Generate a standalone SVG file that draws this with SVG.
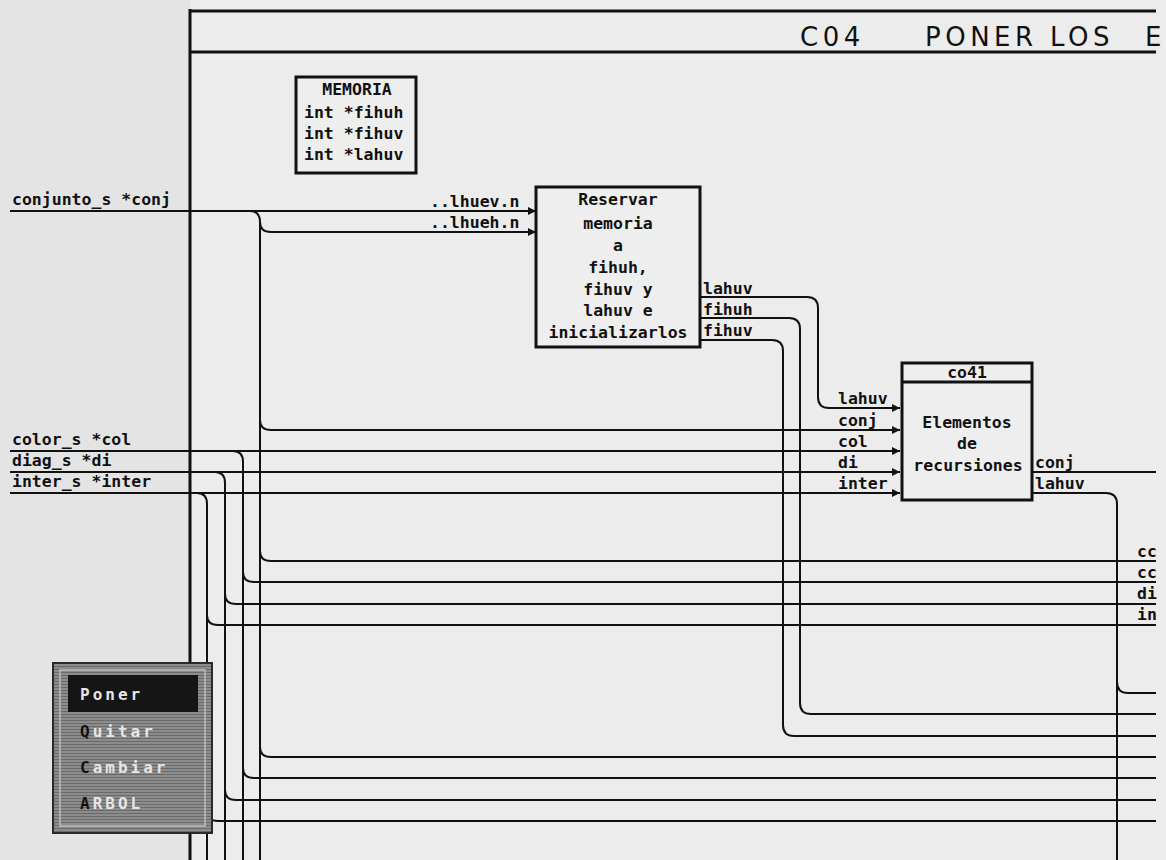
<svg xmlns="http://www.w3.org/2000/svg" width="1166" height="860" viewBox="0 0 1166 860">
<defs>
<marker id="arr" viewBox="0 0 8 8" refX="8" refY="4" markerWidth="8" markerHeight="8" markerUnits="userSpaceOnUse" orient="auto">
<path d="M0,0 L8,4 L0,8 Z" fill="#111"/>
</marker>
<pattern id="stripes" width="4" height="3" patternUnits="userSpaceOnUse">
<rect width="4" height="3" fill="#8c8c8c"/>
<rect width="4" height="1" fill="#6a6a6a"/>
</pattern>
</defs>
<style>
.ln{fill:none;stroke:#111;stroke-width:2}
.a{marker-end:url(#arr)}
.box{fill:#eeeeee;stroke:#111;stroke-width:3}
.t{font-family:"DejaVu Sans Mono","Liberation Mono",monospace;font-size:16.5px;font-weight:bold;fill:#111}
.c{text-anchor:middle}
.ti{font-family:"DejaVu Sans","Liberation Sans",sans-serif;font-size:26px;letter-spacing:4.5px;fill:#111}
.m{font-family:"DejaVu Sans Mono","Liberation Mono",monospace;font-size:16px;font-weight:bold;letter-spacing:3px;fill:#e6e6e6}
.k{fill:#111}
</style>
<rect width="1166" height="860" fill="#ececec"/>
<rect width="190" height="860" fill="#e4e4e4"/>

<g id="frame">
<line x1="190" y1="9" x2="190" y2="860" stroke="#111" stroke-width="3"/>
<line x1="190" y1="11" x2="1156" y2="11" stroke="#111" stroke-width="3"/>
<line x1="190" y1="52" x2="1156" y2="52" stroke="#111" stroke-width="3"/>
<text class="ti" x="800" y="46">C04</text>
<text class="ti" x="925" y="46">PONER</text>
<text class="ti" x="1050" y="46">LOS</text>
<text class="ti" x="1145" y="46">E</text>
</g>

<g id="connectors">
<path class="ln a" d="M10,211 H536"/>
<path class="ln a" d="M10,451 H900"/>
<path class="ln a" d="M10,472 H900"/>
<path class="ln a" d="M10,493 H900"/>
<path class="ln" d="M250,211 Q260,211 260,222 V860"/>
<path class="ln a" d="M260,222 Q260,232 271,232 H536"/>
<path class="ln a" d="M260,420 Q260,430 271,430 H900"/>
<path class="ln" d="M260,551 Q260,561 271,561 H1156"/>
<path class="ln" d="M260,747 Q260,757 271,757 H1156"/>
<path class="ln" d="M233,451 Q243,451 243,462 V860"/>
<path class="ln" d="M243,572 Q243,582 254,582 H1156"/>
<path class="ln" d="M243,768 Q243,778 254,778 H1156"/>
<path class="ln" d="M215,472 Q225,472 225,483 V860"/>
<path class="ln" d="M225,594 Q225,604 236,604 H1156"/>
<path class="ln" d="M225,790 Q225,800 236,800 H1156"/>
<path class="ln" d="M197,493 Q207,493 207,504 V860"/>
<path class="ln" d="M207,615 Q207,625 218,625 H1156"/>
<path class="ln" d="M207,811 Q207,821 218,821 H1156"/>
<path class="ln a" d="M700,297 H807 Q818,297 818,308 V397 Q818,408 829,408 H900"/>
<path class="ln" d="M700,318 H789 Q800,318 800,329 V703 Q800,714 811,714 H1156"/>
<path class="ln" d="M700,340 H772 Q783,340 783,351 V725 Q783,736 794,736 H1156"/>
<path class="ln" d="M1032,472 H1156"/>
<path class="ln" d="M1032,493 H1106 Q1117,493 1117,504 V860"/>
<path class="ln" d="M1117,682 Q1117,693 1128,693 H1156"/>
<text class="t" x="12" y="205">conjunto_s *conj</text>
<text class="t" x="12" y="445">color_s *col</text>
<text class="t" x="12" y="466">diag_s *di</text>
<text class="t" x="12" y="487">inter_s *inter</text>
<text class="t" x="430" y="207">..lhuev.n</text>
<text class="t" x="430" y="228">..lhueh.n</text>
<text class="t" x="703" y="294">lahuv</text>
<text class="t" x="703" y="315">fihuh</text>
<text class="t" x="703" y="336">fihuv</text>
<text class="t" x="838" y="404">lahuv</text>
<text class="t" x="838" y="426">conj</text>
<text class="t" x="838" y="447">col</text>
<text class="t" x="838" y="468">di</text>
<text class="t" x="838" y="489">inter</text>
<text class="t" x="1035" y="468">conj</text>
<text class="t" x="1035" y="489">lahuv</text>
<text class="t" x="1137" y="557">cc</text>
<text class="t" x="1137" y="578">cc</text>
<text class="t" x="1137" y="599">di</text>
<text class="t" x="1137" y="620">in</text>
</g>

<g id="memoria">
<rect class="box" x="296" y="77" width="120" height="96"/>
<text class="t c" x="357" y="95">MEMORIA</text>
<text class="t" x="304" y="118" font-size="17">int *fihuh</text>
<text class="t" x="304" y="139" font-size="17">int *fihuv</text>
<text class="t" x="304" y="160" font-size="17">int *lahuv</text>
</g>

<g id="reservar">
<rect class="box" x="536" y="187" width="164" height="160"/>
<text class="t c" x="618" y="205">Reservar</text>
<text class="t c" x="618" y="229">memoria</text>
<text class="t c" x="618" y="251">a</text>
<text class="t c" x="618" y="273">fihuh,</text>
<text class="t c" x="618" y="295">fihuv y</text>
<text class="t c" x="618" y="316">lahuv e</text>
<text class="t c" x="618" y="338">inicializarlos</text>
</g>

<g id="co41">
<rect class="box" x="902" y="363" width="130" height="137"/>
<line x1="902" y1="382" x2="1032" y2="382" stroke="#111" stroke-width="3"/>
<text class="t c" x="967" y="378">co41</text>
<text class="t c" x="967" y="428">Elementos</text>
<text class="t c" x="967" y="449">de</text>
<text class="t c" x="968" y="471">recursiones</text>
</g>

<g id="menu">
<rect x="53" y="663" width="159" height="170" fill="url(#stripes)" stroke="#2a2a2a" stroke-width="2"/>
<rect x="60" y="670" width="145" height="156" fill="none" stroke="#bdbdbd" stroke-width="1.5"/>
<rect x="68" y="675" width="130" height="37" fill="#151515"/>
<text class="m" x="80" y="700">Poner</text>
<text class="m" x="80" y="737"><tspan class="k">Q</tspan>uitar</text>
<text class="m" x="80" y="773"><tspan class="k">C</tspan>ambiar</text>
<text class="m" x="80" y="809"><tspan class="k">A</tspan>RBOL</text>
</g>
</svg>
